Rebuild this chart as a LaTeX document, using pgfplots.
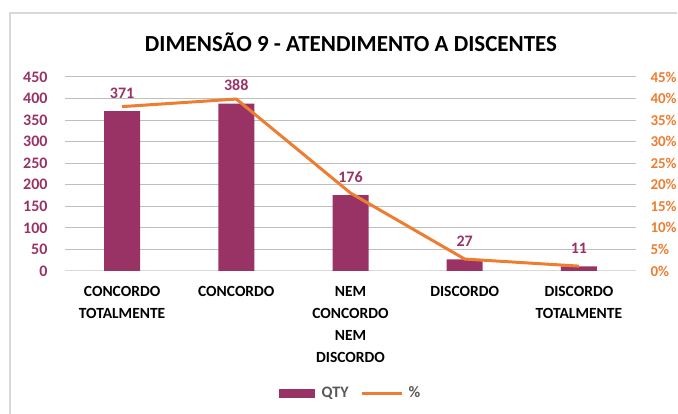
\documentclass[border=0pt]{standalone}
\usepackage{pgfplots}
\pgfplotsset{compat=1.18}
\usepackage{fontspec}
\setmainfont{Carlito}
\definecolor{plum}{RGB}{153,51,102}
\definecolor{orng}{RGB}{237,125,49}
\definecolor{grid}{RGB}{217,217,217}
\definecolor{legtxt}{RGB}{89,89,89}
\begin{document}
\begin{tikzpicture}[x=1pt,y=1pt]
\path[use as bounding box] (0,0) rectangle (678,414);
\draw[grid, line width=1.5pt] (10,0) -- (10,401) -- (677,401);
\node[font=\fontsize{23}{25}\selectfont\bfseries, anchor=center] at (351,372) {DIMENSÃO 9 - ATENDIMENTO A DISCENTES};
\begin{axis}[
  at={(65pt,143pt)}, anchor=south west,
  scale only axis, width=571pt, height=194pt,
  xmin=-0.5, xmax=4.5, ymin=0, ymax=450,
  ytick={0,50,...,450},
  xtick={0,1,2,3,4},
  xticklabels={{CONCORDO\\TOTALMENTE},{CONCORDO},{NEM\\CONCORDO\\NEM\\DISCORDO},{DISCORDO},{DISCORDO\\TOTALMENTE}},
  xticklabel style={align=center, font=\fontsize{15.5}{22}\selectfont\bfseries, anchor=north, yshift=-12pt},
  yticklabel style={font=\fontsize{16}{18}\selectfont\bfseries, color=plum, xshift=-14pt},
  /pgf/number format/assume math mode=true,
  ymajorgrids, xmajorgrids=false, grid style={grid, line width=1pt},
  axis lines*=left,
  y axis line style={draw=none},
  x axis line style={draw=grid, line width=1pt, -},
  major tick length=0pt,
  ybar, bar width=36pt,
  nodes near coords,
  every node near coord/.append style={font=\fontsize{16}{18}\selectfont\bfseries, color=plum, inner sep=0pt, anchor=south, yshift=12.5pt},
  legend style={at={(axis description cs:0.5,-0.63)}, anchor=center, draw=none, legend columns=2,
    font=\fontsize{16}{18}\selectfont\bfseries, text=legtxt,
    /tikz/every even column/.append style={column sep=10pt}},
]
\addplot[fill=plum, draw=none, legend image code/.code={\fill[plum] (0pt,-4.5pt) rectangle (36pt,4.5pt); \path (41pt,0pt);}] coordinates {(0,371) (1,388) (2,176) (3,27) (4,11)};
\addlegendentry{QTY}
\addlegendimage{orng, line width=3pt, legend image code/.code={\draw[orng, line width=3pt] (0pt,0pt) -- (40pt,0pt); \path (43pt,0pt);}}
\addlegendentry{\%}
\end{axis}
\begin{axis}[
  at={(65pt,143pt)}, anchor=south west,
  scale only axis, width=571pt, height=194pt,
  xmin=-0.5, xmax=4.5, ymin=0, ymax=45,
  ytick={0,5,...,45},
  yticklabel={\pgfmathprintnumber{\tick}\%},
  /pgf/number format/assume math mode=true,
  yticklabel style={font=\fontsize{15}{17}\selectfont\bfseries, color=orng, anchor=west, xshift=11pt},
  axis y line*=right, axis x line=none,
  y axis line style={draw=none},
  major tick length=0pt,
]
\addplot[orng, line width=3pt, no marks] coordinates {(0,38.13) (1,39.88) (2,18.09) (3,2.77) (4,1.13)};
\end{axis}
\end{tikzpicture}
\end{document}
